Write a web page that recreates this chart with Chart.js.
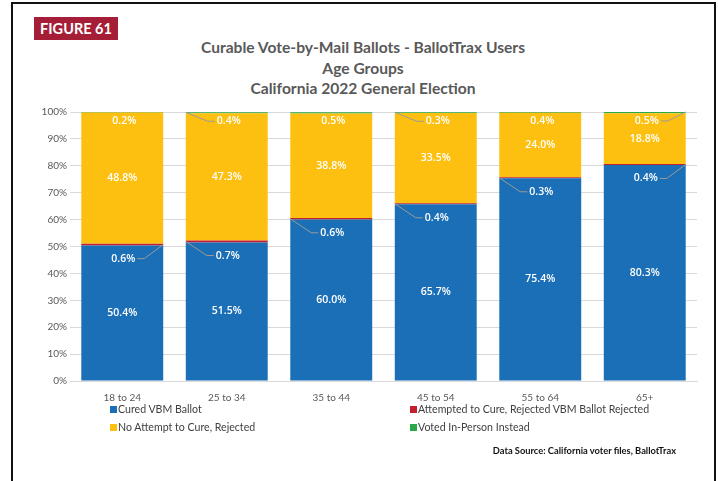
<!DOCTYPE html>
<html>
<head>
<meta charset="utf-8">
<script src="https://cdn.jsdelivr.net/npm/chart.js@4/dist/chart.umd.min.js"></script>
<style>
  body { margin: 0; background: #fff; }
  #wrap { position: relative; width: 718px; height: 481px; overflow: hidden; font-family: Lato, sans-serif; }
  #frame { position: absolute; left: 11px; top: 2px; width: 701px; height: 520px; border: 2px solid #111; }
  #fig { position: absolute; left: 34px; top: 17px; width: 84px; height: 23px; background: #a51d36; color: #fff;
         font: bold 14.5px Lato, sans-serif; line-height: 23px; text-align: center; }
  #title { position: absolute; left: 0; width: 726px; top: 37px; text-align: center; color: #595959;
           font: bold 15.6px Lato, sans-serif; line-height: 20.5px; }
  #chart { position: absolute; left: 0; top: 0; }
  #legend { position: absolute; left: 110px; top: 403px; width: 600px; font: 10.6px Lato, sans-serif; color: #404040; }
  .item { position: absolute; white-space: nowrap; }
  .item span { display: inline-block; width: 7px; height: 7px; margin-right: 1px; vertical-align: 0px; }
  #source { position: absolute; right: 42px; top: 445px; font: bold 9.3px Lato, sans-serif; color: #111; }
</style>
</head>
<body>
<div id="wrap">
  <div id="frame"></div>
  <div id="fig">FIGURE 61</div>
  <div id="title">Curable Vote-by-Mail Ballots - BallotTrax Users<br>Age Groups<br>California 2022 General Election</div>
  <canvas id="chart" width="718" height="481"></canvas>
  <div id="legend"></div>
  <div id="source">Data Source: California voter files, BallotTrax</div>
</div>
<script>
// data (percent of curable VBM ballots)
const ageGroups = ['18 to 24', '25 to 34', '35 to 44', '45 to 54', '55 to 64', '65+'];
const seriesNames = ['Cured VBM Ballot', 'Attempted to Cure, Rejected VBM Ballot Rejected', 'No Attempt to Cure, Rejected', 'Voted In-Person Instead'];
const cured = [50.4, 51.5, 60.0, 65.7, 75.4, 80.3];
const attempted = [0.6, 0.7, 0.6, 0.4, 0.3, 0.4];
const noAttempt = [48.8, 47.3, 38.8, 33.5, 24.0, 18.8];
const votedInPerson = [0.2, 0.4, 0.5, 0.3, 0.4, 0.5];
const yTicks = [0, 10, 20, 30, 40, 50, 60, 70, 80, 90, 100];

const colors = ['#1b6fb7', '#c3202f', '#fdc010', '#2aa84a'];
// which side the leader line of a small label comes from
const attemptSide = ['right', 'left', 'left', 'left', 'left', 'right'];
const votedSide = ['', 'left', '', 'left', '', 'right'];

// legend (two columns like the original)
const legend = document.getElementById('legend');
seriesNames.forEach(function (name, i) {
  const d = document.createElement('div');
  d.className = 'item';
  d.style.left = (i % 2 ? 300 : 0) + 'px';
  d.style.top = (i < 2 ? 0 : 18) + 'px';
  d.innerHTML = '<span style="background:' + colors[i] + '"></span>' + name;
  legend.appendChild(d);
});

const labelPlugin = {
  id: 'segLabels',
  afterDatasetsDraw(chart) {
    const ctx = chart.ctx;
    ctx.save();
    ctx.font = '600 10.5px "Open Sans", sans-serif';
    ctx.fillStyle = '#fff';
    ctx.textAlign = 'center';
    ctx.textBaseline = 'middle';
    ctx.strokeStyle = '#9a9a9a';
    ctx.lineWidth = 1;
    chart.data.datasets.forEach(function (ds, i) {
      const meta = chart.getDatasetMeta(i);
      meta.data.forEach(function (bar, j) {
        const txt = ds.data[j].toFixed(1) + '%';
        const left = bar.x - bar.width / 2, right = bar.x + bar.width / 2;
        if (i === 0 || i === 2) {
          ctx.fillText(txt, bar.x, (bar.y + bar.base) / 2);
          return;
        }
        const side = i === 1 ? attemptSide[j] : votedSide[j];
        const segY = i === 1 ? (bar.y + bar.base) / 2 : bar.y;
        const ly = segY + (i === 1 ? 14 : 9);
        const lx = bar.x + (i === 1 ? 1 : 2);
        const w = ctx.measureText(txt).width;
        if (side) {
          ctx.beginPath();
          if (side === 'left') {
            ctx.moveTo(left, segY);
            ctx.lineTo(lx - w / 2 - 9, ly);
            ctx.lineTo(lx - w / 2 - 2, ly);
          } else {
            ctx.moveTo(right, segY);
            ctx.lineTo(lx + w / 2 + 9, ly);
            ctx.lineTo(lx + w / 2 + 2, ly);
          }
          ctx.stroke();
        }
        ctx.fillText(txt, lx, ly);
      });
    });
    ctx.restore();
  }
};

const datasets = [cured, attempted, noAttempt, votedInPerson].map(function (vals, i) {
  return {
    label: seriesNames[i],
    data: vals,
    backgroundColor: colors[i],
    borderWidth: 0,
    barPercentage: 0.784,
    categoryPercentage: 1
  };
});

new Chart(document.getElementById('chart'), {
  type: 'bar',
  data: { labels: ageGroups, datasets: datasets },
  plugins: [labelPlugin],
  options: {
    responsive: false,
    animation: false,
    layout: { padding: { left: 0, right: 21, top: 112, bottom: 0 } },
    plugins: { legend: { display: false }, tooltip: { enabled: false } },
    scales: {
      x: {
        stacked: true,
        grid: { display: false },
        border: { color: '#d9d9d9' },
        ticks: { color: '#595959', font: { family: 'Lato', size: 10 }, padding: 3 },
        afterFit: function (s) { s.height = 100; }
      },
      y: {
        stacked: true,
        min: 0,
        max: 100,
        afterBuildTicks: function (s) { s.ticks = yTicks.map(function (v) { return { value: v }; }); },
        grid: { color: '#d9d9d9', drawTicks: false },
        border: { display: false },
        ticks: { color: '#595959', font: { family: 'Lato', size: 10 }, padding: 3,
                 callback: function (v) { return v + '%'; } },
        afterFit: function (s) { s.width = 70; }
      }
    }
  }
});
</script>
</body>
</html>
